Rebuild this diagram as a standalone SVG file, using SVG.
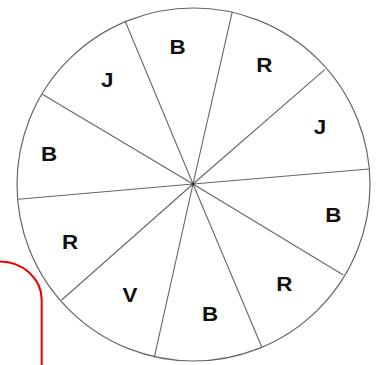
<svg xmlns="http://www.w3.org/2000/svg" width="378" height="365" viewBox="0 0 378 365">
<style>
.rim{fill:#fff;stroke:#666;stroke-width:1.2}
.sp{stroke:#666;stroke-width:1.1;fill:none}
.lb{font-family:"Liberation Sans",Arial,sans-serif;font-weight:bold;font-size:20px;fill:#111;text-anchor:middle}
</style>
<rect width="378" height="365" fill="#fff"/>
<g id="wheel">
<circle class="rim" cx="193.5" cy="184.5" r="176.5"/>
</g>
<g id="spokes">
<line class="sp" x1="193" y1="184" x2="125" y2="20.7"/>
<line class="sp" x1="193" y1="184" x2="232.3" y2="11.7"/>
<line class="sp" x1="193" y1="184" x2="325" y2="69.3"/>
<line class="sp" x1="193" y1="184" x2="369" y2="169"/>
<line class="sp" x1="193" y1="184" x2="343.3" y2="275"/>
<line class="sp" x1="193" y1="184" x2="261.7" y2="346.7"/>
<line class="sp" x1="193" y1="184" x2="154.3" y2="357.3"/>
<line class="sp" x1="193" y1="184" x2="61.7" y2="300"/>
<line class="sp" x1="193" y1="184" x2="18.3" y2="199.3"/>
<line class="sp" x1="193" y1="184" x2="42.3" y2="94.3"/>
<circle cx="193" cy="184" r="1.5" fill="#333"/>
</g>
<g id="labels">
<g id="s1"><text class="lb" transform="translate(177.5,53.5) scale(1.12,1)">B</text></g>
<g id="s2"><text class="lb" transform="translate(264.3,72) scale(1.12,1)">R</text></g>
<g id="s3"><text class="lb" transform="translate(320,134) scale(1.12,1)">J</text></g>
<g id="s4"><text class="lb" transform="translate(333.3,222) scale(1.12,1)">B</text></g>
<g id="s5"><text class="lb" transform="translate(284.3,290.5) scale(1.12,1)">R</text></g>
<g id="s6"><text class="lb" transform="translate(210,321) scale(1.12,1)">B</text></g>
<g id="s7"><text class="lb" transform="translate(130,302) scale(1.12,1)">V</text></g>
<g id="s8"><text class="lb" transform="translate(70,249) scale(1.12,1)">R</text></g>
<g id="s9"><text class="lb" transform="translate(49,160.5) scale(1.12,1)">B</text></g>
<g id="s10"><text class="lb" transform="translate(107.3,86.5) scale(1.12,1)">J</text></g>
</g>
<g id="redline">
<path d="M0,261.5 C22,261.5 41.7,278 41.7,300 V365" fill="none" stroke="#e00" stroke-width="2"/>
</g>
</svg>
